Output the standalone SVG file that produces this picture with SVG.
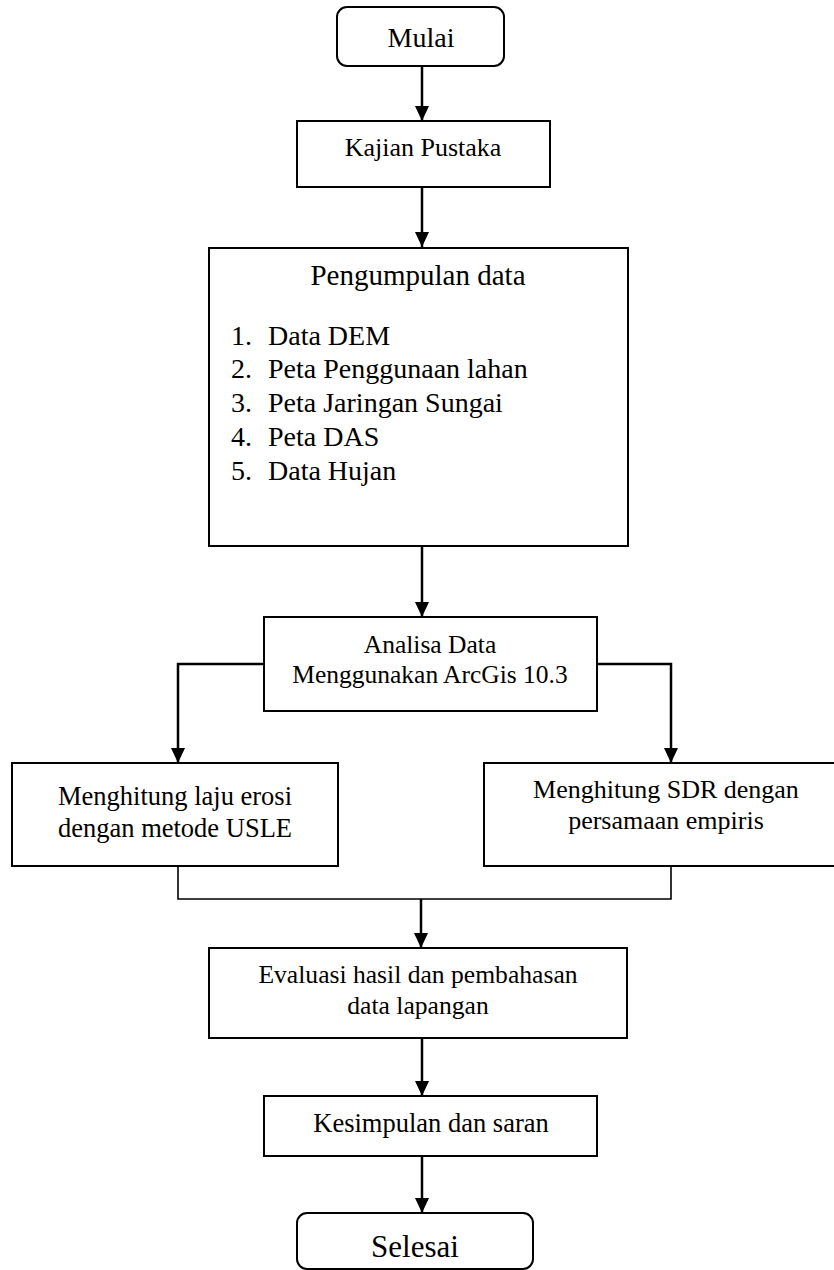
<svg xmlns="http://www.w3.org/2000/svg" width="834" height="1270" viewBox="0 0 834 1270">
<defs>
<style>
.box{fill:#fff;stroke:#000;stroke-width:2}
.t{font-family:"Liberation Serif","Times New Roman",serif;fill:#000;text-anchor:middle}
.l{font-family:"Liberation Serif","Times New Roman",serif;fill:#000;font-size:28px}
.c{fill:none;stroke:#000;stroke-width:2.5}
.j{fill:none;stroke:#000;stroke-width:1.6}
</style>
<marker id="ah" viewBox="0 0 15 14" refX="15" refY="7" markerWidth="15" markerHeight="14" markerUnits="userSpaceOnUse" orient="auto">
<path d="M0,0 L15,7 L0,14 Z" fill="#000"/>
</marker>
</defs>
<rect width="834" height="1270" fill="#fff"/>
<g id="connectors">
<path class="c" d="M422,66 V121" marker-end="url(#ah)"/>
<path class="c" d="M422,187 V247" marker-end="url(#ah)"/>
<path class="c" d="M422,546 V617" marker-end="url(#ah)"/>
<path class="c" d="M264,664 H178 V763" marker-end="url(#ah)"/>
<path class="c" d="M597,664 H671 V763" marker-end="url(#ah)"/>
<path class="j" d="M178,866 V899 H671 V866"/>
<path class="c" d="M421,899 V948" marker-end="url(#ah)"/>
<path class="c" d="M422,1038 V1096" marker-end="url(#ah)"/>
<path class="c" d="M422,1156 V1213" marker-end="url(#ah)"/>
</g>
<g id="mulai">
<rect class="box" x="337" y="7" width="167" height="59" rx="10"/>
<text class="t" x="421" y="47" font-size="28">Mulai</text>
</g>
<g id="kajian">
<rect class="box" x="297" y="121" width="253" height="66"/>
<text class="t" x="423" y="156" font-size="26">Kajian Pustaka</text>
</g>
<g id="pengumpulan">
<rect class="box" x="209" y="248" width="419" height="298"/>
<text class="t" x="418" y="285" font-size="29">Pengumpulan data</text>
<text class="l" x="231" y="345">1.</text><text class="l" x="268" y="345">Data DEM</text>
<text class="l" x="231" y="378">2.</text><text class="l" x="268" y="378">Peta Penggunaan lahan</text>
<text class="l" x="231" y="412">3.</text><text class="l" x="268" y="412">Peta Jaringan Sungai</text>
<text class="l" x="231" y="446">4.</text><text class="l" x="268" y="446">Peta DAS</text>
<text class="l" x="231" y="480">5.</text><text class="l" x="268" y="480">Data Hujan</text>
</g>
<g id="analisa">
<rect class="box" x="264" y="617" width="333" height="94"/>
<text class="t" x="430" y="653" font-size="25.5">Analisa Data</text>
<text class="t" x="430" y="683" font-size="25.5">Menggunakan ArcGis 10.3</text>
</g>
<g id="usle">
<rect class="box" x="12" y="763" width="326" height="103"/>
<text class="t" x="175" y="805" font-size="26.5">Menghitung laju erosi</text>
<text class="t" x="175" y="837" font-size="26.5">dengan metode USLE</text>
</g>
<g id="sdr">
<rect class="box" x="484" y="763" width="360" height="103"/>
<text class="t" x="666" y="798" font-size="26">Menghitung SDR dengan</text>
<text class="t" x="666" y="829" font-size="26">persamaan empiris</text>
</g>
<g id="evaluasi">
<rect class="box" x="209" y="948" width="418" height="90"/>
<text class="t" x="418" y="983" font-size="25.6">Evaluasi hasil dan pembahasan</text>
<text class="t" x="418" y="1014" font-size="25.6">data lapangan</text>
</g>
<g id="kesimpulan">
<rect class="box" x="264" y="1096" width="333" height="60"/>
<text class="t" x="431" y="1132" font-size="26.5">Kesimpulan dan saran</text>
</g>
<g id="selesai">
<rect class="box" x="297" y="1213" width="236" height="56" rx="10"/>
<text class="t" x="415" y="1257" font-size="31">Selesai</text>
</g>
</svg>
